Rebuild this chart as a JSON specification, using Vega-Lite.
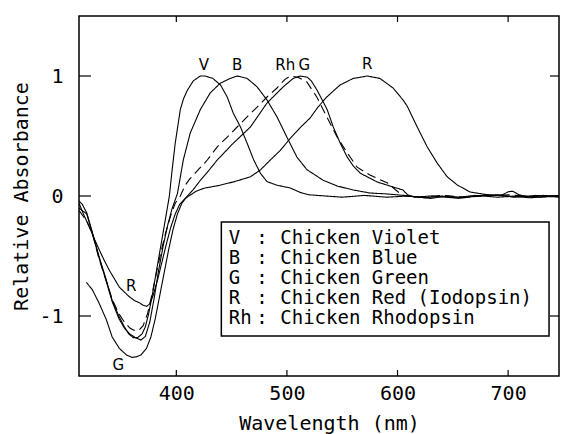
{
  "$schema": "https://vega.github.io/schema/vega-lite/v6.json",
  "width": 480,
  "height": 360,
  "autosize": {"type": "none"},
  "padding": {"left": 79, "top": 16, "right": 2, "bottom": 58},
  "background": "white",
  "config": {
    "font": "DejaVu Sans Mono",
    "view": {"stroke": "black", "strokeWidth": 1.5},
    "axis": {"domain": false, "grid": false, "ticks": false, "labelColor": "black", "titleColor": "black", "labelFont": "DejaVu Sans Mono", "titleFont": "DejaVu Sans Mono", "labelFontSize": 20, "titleFontSize": 20, "titleFontWeight": "normal"}
  },
  "datasets": {
    "curves": [
      {"c":"V","w":312,"a":-0.04},{"c":"V","w":315,"a":-0.07},{"c":"V","w":319,"a":-0.14},{"c":"V","w":324,"a":-0.3},{"c":"V","w":330,"a":-0.5},{"c":"V","w":336,"a":-0.68},{"c":"V","w":342,"a":-0.87},{"c":"V","w":348,"a":-1.0},{"c":"V","w":353,"a":-1.09},{"c":"V","w":357,"a":-1.15},{"c":"V","w":361,"a":-1.18},{"c":"V","w":365,"a":-1.18},{"c":"V","w":369,"a":-1.15},{"c":"V","w":372,"a":-1.09},{"c":"V","w":375,"a":-0.98},{"c":"V","w":378,"a":-0.84},{"c":"V","w":381,"a":-0.68},{"c":"V","w":384,"a":-0.52},{"c":"V","w":387,"a":-0.36},{"c":"V","w":390,"a":-0.2},{"c":"V","w":393.7,"a":0},{"c":"V","w":396,"a":0.2},{"c":"V","w":399,"a":0.44},{"c":"V","w":403.6,"a":0.72},{"c":"V","w":406.5,"a":0.81},{"c":"V","w":409.9,"a":0.88},{"c":"V","w":415.4,"a":0.96},{"c":"V","w":421.7,"a":1.0},{"c":"V","w":426,"a":1.0},{"c":"V","w":433,"a":0.98},{"c":"V","w":440,"a":0.925},{"c":"V","w":446,"a":0.825},{"c":"V","w":451.5,"a":0.69},{"c":"V","w":458,"a":0.575},{"c":"V","w":464,"a":0.44},{"c":"V","w":470,"a":0.3},{"c":"V","w":476,"a":0.19},{"c":"V","w":482,"a":0.12},{"c":"V","w":491,"a":0.09},{"c":"V","w":503,"a":0.067},{"c":"V","w":512,"a":0.03},{"c":"V","w":520,"a":0.01},{"c":"V","w":535,"a":0},{"c":"V","w":550,"a":-0.01},{"c":"V","w":570,"a":0.005},{"c":"V","w":590,"a":-0.01},{"c":"V","w":610,"a":0},{"c":"V","w":630,"a":-0.02},{"c":"V","w":645,"a":0},{"c":"V","w":660,"a":-0.015},{"c":"V","w":680,"a":0.01},{"c":"V","w":700,"a":0},{"c":"V","w":720,"a":-0.015},{"c":"V","w":746,"a":0.005},

      {"c":"B","w":312,"a":-0.1},{"c":"B","w":319,"a":-0.15},{"c":"B","w":325,"a":-0.34},{"c":"B","w":330,"a":-0.51},{"c":"B","w":336,"a":-0.69},{"c":"B","w":342,"a":-0.88},{"c":"B","w":348,"a":-1.02},{"c":"B","w":353,"a":-1.1},{"c":"B","w":358,"a":-1.15},{"c":"B","w":363,"a":-1.18},{"c":"B","w":368,"a":-1.2},{"c":"B","w":372,"a":-1.17},{"c":"B","w":376,"a":-1.05},{"c":"B","w":380,"a":-0.85},{"c":"B","w":384,"a":-0.62},{"c":"B","w":388,"a":-0.42},{"c":"B","w":392,"a":-0.25},{"c":"B","w":396,"a":-0.11},{"c":"B","w":401,"a":0.02},{"c":"B","w":406.3,"a":0.3},{"c":"B","w":412.6,"a":0.525},{"c":"B","w":421.7,"a":0.72},{"c":"B","w":430.7,"a":0.86},{"c":"B","w":439.8,"a":0.94},{"c":"B","w":448.8,"a":0.98},{"c":"B","w":455,"a":1.0},{"c":"B","w":464,"a":0.98},{"c":"B","w":473,"a":0.91},{"c":"B","w":482,"a":0.8},{"c":"B","w":491,"a":0.66},{"c":"B","w":500,"a":0.49},{"c":"B","w":509,"a":0.325},{"c":"B","w":518,"a":0.22},{"c":"B","w":533,"a":0.13},{"c":"B","w":545.5,"a":0.083},{"c":"B","w":560,"a":0.05},{"c":"B","w":575,"a":0.025},{"c":"B","w":591,"a":0.017},{"c":"B","w":611,"a":0},{"c":"B","w":625,"a":-0.015},{"c":"B","w":640,"a":0},{"c":"B","w":655,"a":-0.02},{"c":"B","w":670,"a":0},{"c":"B","w":690,"a":0.01},{"c":"B","w":705,"a":-0.01},{"c":"B","w":725,"a":0.005},{"c":"B","w":746,"a":-0.01},

      {"c":"Rh","w":312,"a":-0.12},{"c":"Rh","w":319,"a":-0.21},{"c":"Rh","w":324,"a":-0.31},{"c":"Rh","w":330,"a":-0.52},{"c":"Rh","w":336,"a":-0.69},{"c":"Rh","w":342,"a":-0.86},{"c":"Rh","w":348,"a":-0.98},{"c":"Rh","w":353,"a":-1.05},{"c":"Rh","w":358,"a":-1.1},{"c":"Rh","w":362,"a":-1.12},{"c":"Rh","w":366,"a":-1.12},{"c":"Rh","w":370,"a":-1.08},{"c":"Rh","w":374,"a":-0.98},{"c":"Rh","w":378,"a":-0.82},{"c":"Rh","w":382,"a":-0.64},{"c":"Rh","w":386,"a":-0.47},{"c":"Rh","w":390,"a":-0.32},{"c":"Rh","w":395,"a":-0.16},{"c":"Rh","w":399,"a":-0.06},{"c":"Rh","w":403.6,"a":0},{"c":"Rh","w":408,"a":0.09},{"c":"Rh","w":412,"a":0.14},{"c":"Rh","w":417,"a":0.19},{"c":"Rh","w":428,"a":0.3},{"c":"Rh","w":437,"a":0.41},{"c":"Rh","w":446,"a":0.49},{"c":"Rh","w":455,"a":0.575},{"c":"Rh","w":464,"a":0.66},{"c":"Rh","w":473,"a":0.74},{"c":"Rh","w":482,"a":0.825},{"c":"Rh","w":491,"a":0.9},{"c":"Rh","w":498,"a":0.97},{"c":"Rh","w":503,"a":1.0},{"c":"Rh","w":510,"a":0.99},{"c":"Rh","w":518,"a":0.95},{"c":"Rh","w":527,"a":0.825},{"c":"Rh","w":536,"a":0.66},{"c":"Rh","w":545.5,"a":0.49},{"c":"Rh","w":554.5,"a":0.36},{"c":"Rh","w":563.5,"a":0.24},{"c":"Rh","w":575,"a":0.175},{"c":"Rh","w":591,"a":0.108},{"c":"Rh","w":600.6,"a":0.033},{"c":"Rh","w":607,"a":0},{"c":"Rh","w":620,"a":-0.01},{"c":"Rh","w":640,"a":0.005},{"c":"Rh","w":660,"a":-0.01},{"c":"Rh","w":680,"a":0},{"c":"Rh","w":700,"a":0.01},{"c":"Rh","w":720,"a":-0.005},{"c":"Rh","w":746,"a":0},

      {"c":"G","w":318.7,"a":-0.72},{"c":"G","w":324,"a":-0.78},{"c":"G","w":330,"a":-0.89},{"c":"G","w":336.7,"a":-1.03},{"c":"G","w":342,"a":-1.175},{"c":"G","w":348.5,"a":-1.27},{"c":"G","w":355,"a":-1.325},{"c":"G","w":360,"a":-1.345},{"c":"G","w":364,"a":-1.34},{"c":"G","w":368,"a":-1.325},{"c":"G","w":373,"a":-1.27},{"c":"G","w":377,"a":-1.175},{"c":"G","w":381,"a":-1.02},{"c":"G","w":385,"a":-0.83},{"c":"G","w":389,"a":-0.64},{"c":"G","w":393,"a":-0.45},{"c":"G","w":397,"a":-0.28},{"c":"G","w":401,"a":-0.15},{"c":"G","w":405,"a":-0.06},{"c":"G","w":410,"a":0},{"c":"G","w":415,"a":0.05},{"c":"G","w":421.7,"a":0.13},{"c":"G","w":430,"a":0.22},{"c":"G","w":437,"a":0.3},{"c":"G","w":451.5,"a":0.44},{"c":"G","w":467,"a":0.575},{"c":"G","w":482,"a":0.775},{"c":"G","w":496.7,"a":0.91},{"c":"G","w":505.7,"a":0.98},{"c":"G","w":512,"a":1.0},{"c":"G","w":518.4,"a":0.99},{"c":"G","w":522,"a":0.96},{"c":"G","w":527.4,"a":0.88},{"c":"G","w":536.4,"a":0.72},{"c":"G","w":541.9,"a":0.575},{"c":"G","w":548.2,"a":0.44},{"c":"G","w":554.5,"a":0.325},{"c":"G","w":560,"a":0.25},{"c":"G","w":566.3,"a":0.19},{"c":"G","w":581.6,"a":0.117},{"c":"G","w":596,"a":0.075},{"c":"G","w":605,"a":0.05},{"c":"G","w":609,"a":0.01},{"c":"G","w":615,"a":-0.01},{"c":"G","w":630,"a":0},{"c":"G","w":650,"a":-0.015},{"c":"G","w":670,"a":0.005},{"c":"G","w":690,"a":-0.01},{"c":"G","w":710,"a":0},{"c":"G","w":730,"a":-0.01},{"c":"G","w":746,"a":0},

      {"c":"R","w":312,"a":-0.06},{"c":"R","w":316,"a":-0.15},{"c":"R","w":321.4,"a":-0.26},{"c":"R","w":326,"a":-0.36},{"c":"R","w":330.4,"a":-0.45},{"c":"R","w":335,"a":-0.54},{"c":"R","w":339.5,"a":-0.62},{"c":"R","w":344,"a":-0.69},{"c":"R","w":348.5,"a":-0.76},{"c":"R","w":353,"a":-0.8},{"c":"R","w":357.5,"a":-0.84},{"c":"R","w":362,"a":-0.87},{"c":"R","w":366.6,"a":-0.89},{"c":"R","w":370,"a":-0.91},{"c":"R","w":373,"a":-0.92},{"c":"R","w":376,"a":-0.9},{"c":"R","w":379,"a":-0.83},{"c":"R","w":383,"a":-0.7},{"c":"R","w":387,"a":-0.55},{"c":"R","w":391,"a":-0.4},{"c":"R","w":395,"a":-0.26},{"c":"R","w":399,"a":-0.15},{"c":"R","w":403,"a":-0.07},{"c":"R","w":408,"a":-0.02},{"c":"R","w":413,"a":0.01},{"c":"R","w":418,"a":0.04},{"c":"R","w":425,"a":0.065},{"c":"R","w":437,"a":0.085},{"c":"R","w":451.5,"a":0.117},{"c":"R","w":467,"a":0.16},{"c":"R","w":476,"a":0.217},{"c":"R","w":485,"a":0.3},{"c":"R","w":494,"a":0.38},{"c":"R","w":503,"a":0.48},{"c":"R","w":512,"a":0.57},{"c":"R","w":521,"a":0.65},{"c":"R","w":528,"a":0.74},{"c":"R","w":536,"a":0.825},{"c":"R","w":548,"a":0.925},{"c":"R","w":560,"a":0.98},{"c":"R","w":572.6,"a":1.0},{"c":"R","w":584,"a":0.98},{"c":"R","w":596,"a":0.9},{"c":"R","w":605,"a":0.8},{"c":"R","w":608.7,"a":0.75},{"c":"R","w":617.8,"a":0.575},{"c":"R","w":626.8,"a":0.41},{"c":"R","w":635.8,"a":0.275},{"c":"R","w":644.9,"a":0.16},{"c":"R","w":654,"a":0.092},{"c":"R","w":665.7,"a":0.033},{"c":"R","w":674.7,"a":0.02},{"c":"R","w":685,"a":0.005},{"c":"R","w":695,"a":0.01},{"c":"R","w":700,"a":0.035},{"c":"R","w":704,"a":0.04},{"c":"R","w":710,"a":0.01},{"c":"R","w":720,"a":-0.01},{"c":"R","w":732,"a":0.005},{"c":"R","w":746,"a":-0.005}
    ],
    "labels": [
      {"t":"V","w":424.8,"a":1.09},{"t":"B","w":455,"a":1.09},{"t":"Rh","w":498.5,"a":1.09},{"t":"G","w":515.7,"a":1.09},{"t":"R","w":572.6,"a":1.1},{"t":"R","w":359.3,"a":-0.75},{"t":"G","w":347.6,"a":-1.41}
    ],
    "legend": [
      {"k":"V","d":"Chicken Violet","a":-0.35},
      {"k":"B","d":"Chicken Blue","a":-0.517},
      {"k":"G","d":"Chicken Green","a":-0.683},
      {"k":"R","d":"Chicken Red (Iodopsin)","a":-0.85},
      {"k":"Rh","d":"Chicken Rhodopsin","a":-1.017}
    ],
    "box": [{"x1":440.7,"x2":737,"y1":-0.217,"y2":-1.167}],
    "ticksX": [{"v":400},{"v":500},{"v":600},{"v":700}],
    "ticksY": [{"v":-1},{"v":0},{"v":1}]
  },
  "layer": [
    {
      "data": {"name": "curves"},
      "mark": {"type": "line", "color": "black", "strokeWidth": 1.1, "clip": true},
      "encoding": {
        "x": {"field": "w", "type": "quantitative", "scale": {"domain": [312, 746], "nice": false, "zero": false},
          "axis": {"orient": "bottom", "values": [400, 500, 600, 700], "labelPadding": 7, "title": "Wavelength (nm)", "titleX": 250, "titleY": 53, "titleBaseline": "alphabetic", "titleAlign": "center"}},
        "y": {"field": "a", "type": "quantitative", "scale": {"domain": [-1.5, 1.5], "nice": false, "zero": false},
          "axis": {"orient": "left", "values": [-1, 0, 1], "labelPadding": 16, "labelExpr": "'' + datum.value", "title": "Relative Absorbance", "titleX": -58, "titleY": 180, "titleAngle": -90, "titleBaseline": "middle", "titleAlign": "center"}},
        "strokeDash": {"field": "c", "type": "nominal", "scale": {"domain": ["V", "B", "G", "R", "Rh"], "range": [[1, 0], [1, 0], [1, 0], [1, 0], [9, 5]]}, "legend": null}
      }
    },
    {
      "mark": {"type": "rule", "color": "black", "strokeWidth": 2},
      "encoding": {"y": {"datum": 0, "type": "quantitative", "scale": {"domain": [-1.5, 1.5], "nice": false, "zero": false}}}
    },
    {
      "data": {"name": "ticksX"},
      "mark": {"type": "tick", "orient": "vertical", "size": 12, "thickness": 1.2, "color": "black", "opacity": 1, "clip": true},
      "encoding": {
        "x": {"field": "v", "type": "quantitative", "scale": {"domain": [312, 746], "nice": false, "zero": false}},
        "y": {"datum": -1.5, "type": "quantitative", "scale": {"domain": [-1.5, 1.5], "nice": false, "zero": false}}
      }
    },
    {
      "data": {"name": "ticksX"},
      "mark": {"type": "tick", "orient": "vertical", "size": 12, "thickness": 1.2, "color": "black", "opacity": 1, "clip": true},
      "encoding": {
        "x": {"field": "v", "type": "quantitative", "scale": {"domain": [312, 746], "nice": false, "zero": false}},
        "y": {"datum": 1.5, "type": "quantitative", "scale": {"domain": [-1.5, 1.5], "nice": false, "zero": false}}
      }
    },
    {
      "data": {"name": "ticksY"},
      "mark": {"type": "tick", "orient": "horizontal", "size": 24, "thickness": 1.2, "color": "black", "opacity": 1, "clip": true},
      "encoding": {
        "x": {"datum": 312, "type": "quantitative", "scale": {"domain": [312, 746], "nice": false, "zero": false}},
        "y": {"field": "v", "type": "quantitative", "scale": {"domain": [-1.5, 1.5], "nice": false, "zero": false}}
      }
    },
    {
      "data": {"name": "ticksY"},
      "mark": {"type": "tick", "orient": "horizontal", "size": 18, "thickness": 1.2, "color": "black", "opacity": 1, "clip": true},
      "encoding": {
        "x": {"datum": 746, "type": "quantitative", "scale": {"domain": [312, 746], "nice": false, "zero": false}},
        "y": {"field": "v", "type": "quantitative", "scale": {"domain": [-1.5, 1.5], "nice": false, "zero": false}}
      }
    },
    {
      "data": {"name": "box"},
      "mark": {"type": "rect", "fill": "white", "stroke": "black", "strokeWidth": 1.5},
      "encoding": {
        "x": {"field": "x1", "type": "quantitative", "scale": {"domain": [312, 746], "nice": false, "zero": false}},
        "x2": {"field": "x2"},
        "y": {"field": "y1", "type": "quantitative", "scale": {"domain": [-1.5, 1.5], "nice": false, "zero": false}},
        "y2": {"field": "y2"}
      }
    },
    {
      "data": {"name": "legend"},
      "mark": {"type": "text", "font": "DejaVu Sans Mono", "fontSize": 19, "align": "left", "baseline": "middle", "color": "black"},
      "encoding": {
        "x": {"datum": 447.5, "type": "quantitative", "scale": {"domain": [312, 746], "nice": false, "zero": false}},
        "y": {"field": "a", "type": "quantitative", "scale": {"domain": [-1.5, 1.5], "nice": false, "zero": false}},
        "text": {"field": "k"}
      }
    },
    {
      "data": {"name": "legend"},
      "mark": {"type": "text", "font": "DejaVu Sans Mono", "fontSize": 19, "align": "center", "baseline": "middle", "color": "black", "text": ":"},
      "encoding": {
        "x": {"datum": 477.5, "type": "quantitative", "scale": {"domain": [312, 746], "nice": false, "zero": false}},
        "y": {"field": "a", "type": "quantitative", "scale": {"domain": [-1.5, 1.5], "nice": false, "zero": false}}
      }
    },
    {
      "data": {"name": "legend"},
      "mark": {"type": "text", "font": "DejaVu Sans Mono", "fontSize": 19, "align": "left", "baseline": "middle", "color": "black"},
      "encoding": {
        "x": {"datum": 494, "type": "quantitative", "scale": {"domain": [312, 746], "nice": false, "zero": false}},
        "y": {"field": "a", "type": "quantitative", "scale": {"domain": [-1.5, 1.5], "nice": false, "zero": false}},
        "text": {"field": "d"}
      }
    },
    {
      "data": {"name": "labels"},
      "mark": {"type": "text", "font": "DejaVu Sans", "fontSize": 15, "align": "center", "baseline": "middle", "color": "black"},
      "encoding": {
        "x": {"field": "w", "type": "quantitative", "scale": {"domain": [312, 746], "nice": false, "zero": false}},
        "y": {"field": "a", "type": "quantitative", "scale": {"domain": [-1.5, 1.5], "nice": false, "zero": false}},
        "text": {"field": "t"}
      }
    }
  ]
}
